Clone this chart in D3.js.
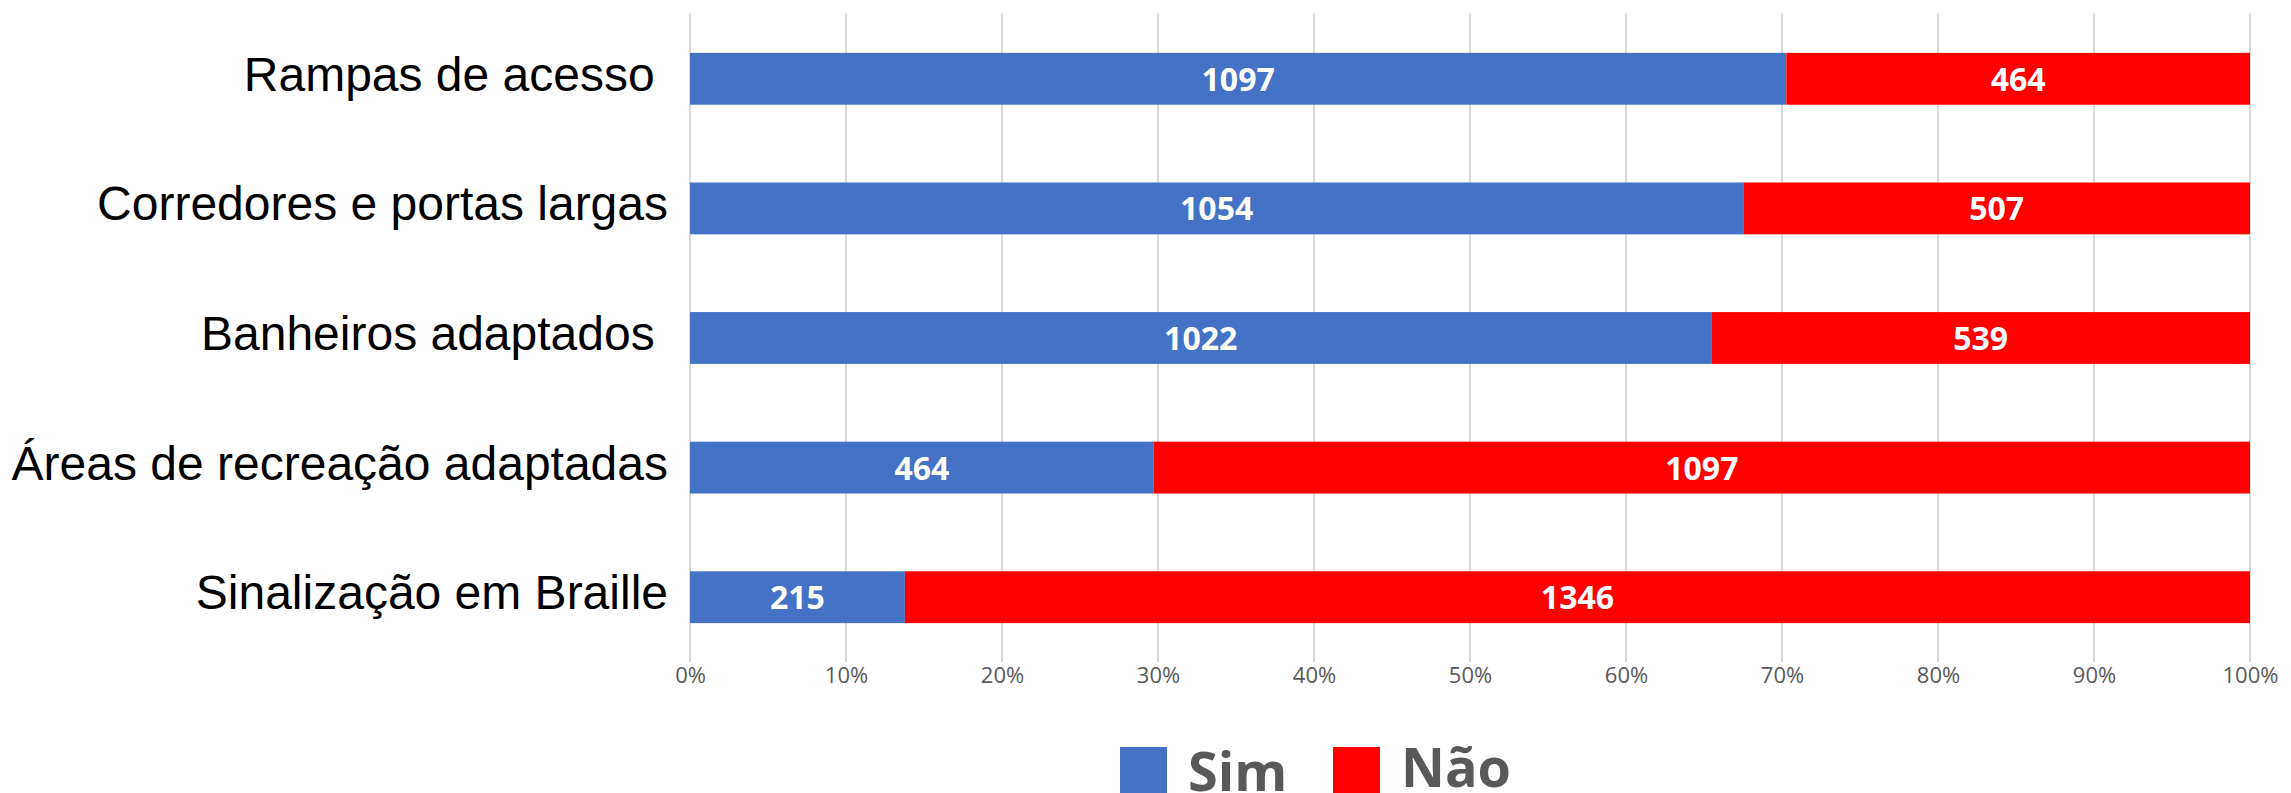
<!DOCTYPE html>
<html>
<head>
<meta charset="utf-8">
<script src="https://cdn.jsdelivr.net/npm/d3@7"></script>
<style>
  body { margin: 0; background: #fff; }
  svg { display: block; }
  .cat { white-space: pre; }
</style>
</head>
<body>
<svg width="2291" height="793"></svg>
<script>
var categories = ["Rampas de acesso ", "Corredores e portas largas", "Banheiros adaptados ",
                  "Áreas de recreação adaptadas", "Sinalização em Braille"];
var simValues = [1097, 1054, 1022, 464, 215];
var naoValues = [464, 507, 539, 1097, 1346];
var seriesNames = ["Sim", "Não"];
var seriesColors = ["#4472C4", "#FF0000"];
var tickValues = [0, 0.1, 0.2, 0.3, 0.4, 0.5, 0.6, 0.7, 0.8, 0.9, 1];

var svg = d3.select("svg"),
    width = +svg.attr("width"),
    height = +svg.attr("height");

var x = d3.scaleLinear().domain([0, 1]).range([690, 2250]);
var y = d3.scaleBand().domain(categories).range([14, 662]).paddingInner(0.6).paddingOuter(0.3);

var rows = categories.map(function(c, i) {
  var total = simValues[i] + naoValues[i];
  return { cat: c, parts: [
    { name: seriesNames[0], value: simValues[i], x0: 0, x1: simValues[i] / total },
    { name: seriesNames[1], value: naoValues[i], x0: simValues[i] / total, x1: 1 }
  ]};
});

// gridlines
svg.append("g")
  .selectAll("line")
  .data(tickValues)
  .enter().append("line")
    .attr("x1", function(d) { return x(d); })
    .attr("x2", function(d) { return x(d); })
    .attr("y1", 13)
    .attr("y2", 662)
    .attr("stroke", "#d9d9d9")
    .attr("stroke-width", 2);

// tick labels
var xAxis = d3.axisBottom(x).tickValues(tickValues).tickFormat(d3.format(".0%")).tickSize(0).tickPadding(0);
var ax = svg.append("g").attr("transform", "translate(0,667)").call(xAxis);
ax.select(".domain").remove();
ax.selectAll("text")
  .attr("font-family", "Open Sans")
  .attr("font-size", 22)
  .attr("fill", "#595959")
  .attr("dy", "0.71em");

// bars
var row = svg.append("g").selectAll("g")
  .data(rows)
  .enter().append("g")
    .attr("transform", function(d) { return "translate(0," + y(d.cat) + ")"; });

row.selectAll("rect")
  .data(function(d) { return d.parts; })
  .enter().append("rect")
    .attr("x", function(d) { return x(d.x0); })
    .attr("width", function(d) { return x(d.x1) - x(d.x0); })
    .attr("height", y.bandwidth())
    .attr("fill", function(d, i) { return seriesColors[i]; });

row.selectAll("text.val")
  .data(function(d) { return d.parts; })
  .enter().append("text")
    .attr("class", "val")
    .attr("x", function(d) { return (x(d.x0) + x(d.x1)) / 2; })
    .attr("y", y.bandwidth() / 2 + 12)
    .attr("text-anchor", "middle")
    .attr("font-family", "Open Sans")
    .attr("font-weight", "bold")
    .attr("font-size", 32)
    .attr("fill", "#fff")
    .text(function(d) { return d.value; });

// category labels
svg.append("g").selectAll("text")
  .data(categories)
  .enter().append("text")
    .attr("class", "cat")
    .attr("x", 668)
    .attr("y", function(d) { return y(d) + y.bandwidth() / 2 + 12; })
    .attr("text-anchor", "end")
    .attr("font-family", "Liberation Sans, Arial")
    .attr("font-size", 48)
    .attr("fill", "#000")
    .text(function(d) { return d; });

// legend
var legendX = [1120, 1333];
var legendBase = [791, 787];
var lg = svg.append("g").selectAll("g")
  .data(seriesNames)
  .enter().append("g")
    .attr("transform", function(d, i) { return "translate(" + legendX[i] + ",0)"; });

lg.append("rect")
  .attr("y", 747)
  .attr("width", 47)
  .attr("height", 46)
  .attr("fill", function(d, i) { return seriesColors[i]; });

lg.append("text")
  .attr("x", 68)
  .attr("y", function(d, i) { return legendBase[i]; })
  .attr("font-family", "Open Sans")
  .attr("font-weight", "bold")
  .attr("font-size", 54)
  .attr("fill", "#595959")
  .text(function(d) { return d; });
</script>
</body>
</html>
